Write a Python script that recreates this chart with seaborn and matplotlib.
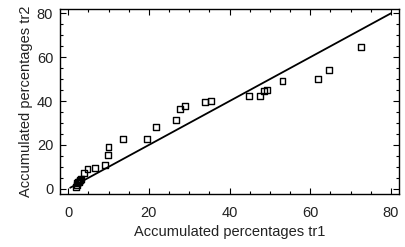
import numpy as np
import pandas as pd
import matplotlib
matplotlib.use("Agg")
import matplotlib.pyplot as plt
import seaborn as sns
from matplotlib.ticker import MultipleLocator

# Accumulated percentages
tr1 = [1.9, 2.1, 2.3, 2.5, 2.7, 2.9, 3.0, 3.2, 4.0, 4.8, 6.7, 9.2, 9.8, 10.0,
       13.5, 19.6, 21.8, 26.8, 27.8, 28.9, 33.9, 35.4, 44.8, 47.5, 48.6, 49.3,
       53.1, 62.0, 64.7, 72.5]
tr2 = [1.0, 1.8, 2.6, 3.0, 3.3, 3.8, 4.0, 4.4, 7.1, 9.0, 9.5, 10.9, 15.3, 19.0,
       22.7, 22.7, 28.0, 31.4, 36.2, 37.9, 39.7, 40.1, 42.3, 42.3, 44.5, 45.0,
       49.1, 49.9, 54.2, 64.5]
diag = [0.5, 80]

df = pd.DataFrame({"tr1": tr1, "tr2": tr2})

sns.set_style("ticks")
plt.rcParams["font.family"] = ["Liberation Sans", "DejaVu Sans"]

fig = plt.figure(figsize=(4.06, 2.47), dpi=100)
ax = fig.add_axes([0.148, 0.215, 0.835, 0.749])

sns.lineplot(x=diag, y=diag, ax=ax, color="black", linewidth=1.3)
sns.scatterplot(data=df, x="tr1", y="tr2", ax=ax, marker="s", s=18,
                facecolor="none", edgecolor="black", linewidth=1.0)

ax.set_xlim(-2, 82)
ax.set_ylim(-2.3, 82)
ax.xaxis.set_major_locator(MultipleLocator(20))
ax.xaxis.set_minor_locator(MultipleLocator(5))
ax.yaxis.set_major_locator(MultipleLocator(20))
ax.yaxis.set_minor_locator(MultipleLocator(5))
ax.tick_params(which="both", direction="in", top=True, right=True,
               labelsize=10.5, color="black", labelcolor="#222222")
ax.tick_params(which="major", length=4.5, width=0.8)
ax.tick_params(which="minor", length=2.2, width=0.8)
ax.tick_params(axis="x", which="major", pad=8.5)
ax.tick_params(axis="y", which="major", pad=5)
for sp in ax.spines.values():
    sp.set_color("black")
    sp.set_linewidth(1.0)

ax.set_xlabel("Accumulated percentages tr1", fontsize=10.5, labelpad=4,
              color="#222222")
ax.set_ylabel("Accumulated percentages tr2", fontsize=10.5, labelpad=3,
              color="#222222")

fig.savefig("out.png", dpi=100)
